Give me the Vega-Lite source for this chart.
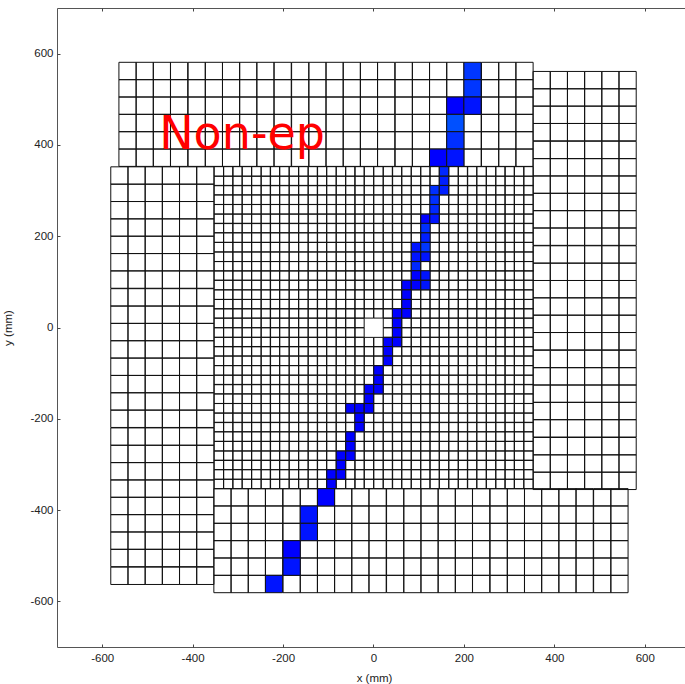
{"$schema":"https://vega.github.io/schema/vega-lite/v6.json","width":628,"height":639,"autosize":"none","padding":{"left":57,"top":8,"right":0,"bottom":37},"background":"white","view":{"stroke":"#555555","strokeWidth":1,"fill":"white"},"config":{"axis":{"grid":false,"domain":false,"tickColor":"#444444","tickSize":-3,"labelFont":"Liberation Sans","labelFontSize":11.5,"labelColor":"#222222","titleFont":"Liberation Sans","titleFontSize":11.5,"titleFontWeight":"normal","titleColor":"#222222","labelPadding":7}},"datasets":{"grid":[
{"x":-342,"y":342},{"x":-321,"y":342},{"x":-301,"y":342},{"x":-280,"y":342},{"x":-259,"y":342},{"x":-238,"y":342},{"x":-218,"y":342},{"x":-197,"y":342},{"x":-176,"y":342},{"x":-155,"y":342},{"x":-134,"y":342},{"x":-114,"y":342},{"x":-93,"y":342},{"x":-72,"y":342},{"x":-51,"y":342},{"x":-31,"y":342},{"x":-10,"y":342},{"x":11,"y":342},{"x":32,"y":342},{"x":52,"y":342},{"x":73,"y":342},{"x":94,"y":342},{"x":115,"y":342},{"x":135,"y":342},{"x":177,"y":342},{"x":198,"y":342},{"x":218,"y":342},{"x":239,"y":342},{"x":260,"y":342},{"x":281,"y":342},{"x":301,"y":342},{"x":322,"y":342},{"x":343,"y":342},
{"x":-342,"y":321},{"x":-321,"y":321},{"x":-301,"y":321},{"x":-280,"y":321},{"x":-259,"y":321},{"x":-238,"y":321},{"x":-218,"y":321},{"x":-197,"y":321},{"x":-176,"y":321},{"x":-155,"y":321},{"x":-134,"y":321},{"x":-114,"y":321},{"x":-93,"y":321},{"x":-72,"y":321},{"x":-51,"y":321},{"x":-31,"y":321},{"x":-10,"y":321},{"x":11,"y":321},{"x":32,"y":321},{"x":52,"y":321},{"x":73,"y":321},{"x":94,"y":321},{"x":115,"y":321},{"x":135,"y":321},{"x":177,"y":321},{"x":198,"y":321},{"x":218,"y":321},{"x":239,"y":321},{"x":260,"y":321},{"x":281,"y":321},{"x":301,"y":321},{"x":322,"y":321},{"x":343,"y":321},
{"x":-342,"y":301},{"x":-321,"y":301},{"x":-301,"y":301},{"x":-280,"y":301},{"x":-259,"y":301},{"x":-238,"y":301},{"x":-218,"y":301},{"x":-197,"y":301},{"x":-176,"y":301},{"x":-155,"y":301},{"x":-134,"y":301},{"x":-114,"y":301},{"x":-93,"y":301},{"x":-72,"y":301},{"x":-51,"y":301},{"x":-31,"y":301},{"x":-10,"y":301},{"x":11,"y":301},{"x":32,"y":301},{"x":52,"y":301},{"x":73,"y":301},{"x":94,"y":301},{"x":115,"y":301},{"x":177,"y":301},{"x":198,"y":301},{"x":218,"y":301},{"x":239,"y":301},{"x":260,"y":301},{"x":281,"y":301},{"x":301,"y":301},{"x":322,"y":301},{"x":343,"y":301},
{"x":-342,"y":280},{"x":-321,"y":280},{"x":-301,"y":280},{"x":-280,"y":280},{"x":-259,"y":280},{"x":-238,"y":280},{"x":-218,"y":280},{"x":-197,"y":280},{"x":-176,"y":280},{"x":-155,"y":280},{"x":-134,"y":280},{"x":-114,"y":280},{"x":-93,"y":280},{"x":-72,"y":280},{"x":-51,"y":280},{"x":-31,"y":280},{"x":-10,"y":280},{"x":11,"y":280},{"x":32,"y":280},{"x":52,"y":280},{"x":73,"y":280},{"x":94,"y":280},{"x":115,"y":280},{"x":156,"y":280},{"x":177,"y":280},{"x":198,"y":280},{"x":218,"y":280},{"x":239,"y":280},{"x":260,"y":280},{"x":281,"y":280},{"x":301,"y":280},{"x":322,"y":280},{"x":343,"y":280},
{"x":-342,"y":259},{"x":-321,"y":259},{"x":-301,"y":259},{"x":-280,"y":259},{"x":-259,"y":259},{"x":-238,"y":259},{"x":-218,"y":259},{"x":-197,"y":259},{"x":-176,"y":259},{"x":-155,"y":259},{"x":-134,"y":259},{"x":-114,"y":259},{"x":-93,"y":259},{"x":-72,"y":259},{"x":-51,"y":259},{"x":-31,"y":259},{"x":-10,"y":259},{"x":11,"y":259},{"x":32,"y":259},{"x":52,"y":259},{"x":73,"y":259},{"x":94,"y":259},{"x":115,"y":259},{"x":156,"y":259},{"x":177,"y":259},{"x":198,"y":259},{"x":218,"y":259},{"x":239,"y":259},{"x":260,"y":259},{"x":281,"y":259},{"x":301,"y":259},{"x":322,"y":259},{"x":343,"y":259},
{"x":-342,"y":238},{"x":-321,"y":238},{"x":-301,"y":238},{"x":-280,"y":238},{"x":-259,"y":238},{"x":-238,"y":238},{"x":-218,"y":238},{"x":-197,"y":238},{"x":-176,"y":238},{"x":-155,"y":238},{"x":-134,"y":238},{"x":-114,"y":238},{"x":-93,"y":238},{"x":-72,"y":238},{"x":-51,"y":238},{"x":-31,"y":238},{"x":-10,"y":238},{"x":11,"y":238},{"x":32,"y":238},{"x":52,"y":238},{"x":73,"y":238},{"x":94,"y":238},{"x":156,"y":238},{"x":177,"y":238},{"x":198,"y":238},{"x":218,"y":238},{"x":239,"y":238},{"x":260,"y":238},{"x":281,"y":238},{"x":301,"y":238},{"x":322,"y":238},{"x":343,"y":238},
{"x":-342,"y":218},{"x":-321,"y":218},{"x":-301,"y":218},{"x":-280,"y":218},{"x":-259,"y":218},{"x":-238,"y":218},{"x":-218,"y":218},{"x":-197,"y":218},{"x":-176,"y":218},{"x":-155,"y":218},{"x":-134,"y":218},{"x":-114,"y":218},{"x":-93,"y":218},{"x":-72,"y":218},{"x":-51,"y":218},{"x":-31,"y":218},{"x":-10,"y":218},{"x":11,"y":218},{"x":32,"y":218},{"x":52,"y":218},{"x":73,"y":218},{"x":94,"y":218},{"x":135,"y":218},{"x":156,"y":218},{"x":177,"y":218},{"x":198,"y":218},{"x":218,"y":218},{"x":239,"y":218},{"x":260,"y":218},{"x":281,"y":218},{"x":301,"y":218},{"x":322,"y":218},{"x":343,"y":218},
{"x":-342,"y":197},{"x":-321,"y":197},{"x":-301,"y":197},{"x":-280,"y":197},{"x":-259,"y":197},{"x":-238,"y":197},{"x":-218,"y":197},{"x":-197,"y":197},{"x":-176,"y":197},{"x":-155,"y":197},{"x":-134,"y":197},{"x":-114,"y":197},{"x":-93,"y":197},{"x":-72,"y":197},{"x":-51,"y":197},{"x":-31,"y":197},{"x":-10,"y":197},{"x":11,"y":197},{"x":32,"y":197},{"x":52,"y":197},{"x":73,"y":197},{"x":94,"y":197},{"x":135,"y":197},{"x":156,"y":197},{"x":177,"y":197},{"x":198,"y":197},{"x":218,"y":197},{"x":239,"y":197},{"x":260,"y":197},{"x":281,"y":197},{"x":301,"y":197},{"x":322,"y":197},{"x":343,"y":197},
{"x":-342,"y":176},{"x":-321,"y":176},{"x":-301,"y":176},{"x":-280,"y":176},{"x":-259,"y":176},{"x":-238,"y":176},{"x":-218,"y":176},{"x":-197,"y":176},{"x":-176,"y":176},{"x":-155,"y":176},{"x":-134,"y":176},{"x":-114,"y":176},{"x":-93,"y":176},{"x":-72,"y":176},{"x":-51,"y":176},{"x":-31,"y":176},{"x":-10,"y":176},{"x":11,"y":176},{"x":32,"y":176},{"x":52,"y":176},{"x":73,"y":176},{"x":135,"y":176},{"x":156,"y":176},{"x":177,"y":176},{"x":198,"y":176},{"x":218,"y":176},{"x":239,"y":176},{"x":260,"y":176},{"x":281,"y":176},{"x":301,"y":176},{"x":322,"y":176},{"x":343,"y":176},
{"x":-342,"y":155},{"x":-321,"y":155},{"x":-301,"y":155},{"x":-280,"y":155},{"x":-259,"y":155},{"x":-238,"y":155},{"x":-218,"y":155},{"x":-197,"y":155},{"x":-176,"y":155},{"x":-155,"y":155},{"x":-134,"y":155},{"x":-114,"y":155},{"x":-93,"y":155},{"x":-72,"y":155},{"x":-51,"y":155},{"x":-31,"y":155},{"x":-10,"y":155},{"x":11,"y":155},{"x":32,"y":155},{"x":52,"y":155},{"x":73,"y":155},{"x":135,"y":155},{"x":156,"y":155},{"x":177,"y":155},{"x":198,"y":155},{"x":218,"y":155},{"x":239,"y":155},{"x":260,"y":155},{"x":281,"y":155},{"x":301,"y":155},{"x":322,"y":155},{"x":343,"y":155},
{"x":-342,"y":134},{"x":-321,"y":134},{"x":-301,"y":134},{"x":-280,"y":134},{"x":-259,"y":134},{"x":-238,"y":134},{"x":-218,"y":134},{"x":-197,"y":134},{"x":-176,"y":134},{"x":-155,"y":134},{"x":-134,"y":134},{"x":-114,"y":134},{"x":-93,"y":134},{"x":-72,"y":134},{"x":-51,"y":134},{"x":-31,"y":134},{"x":-10,"y":134},{"x":11,"y":134},{"x":32,"y":134},{"x":52,"y":134},{"x":73,"y":134},{"x":115,"y":134},{"x":135,"y":134},{"x":156,"y":134},{"x":177,"y":134},{"x":198,"y":134},{"x":218,"y":134},{"x":239,"y":134},{"x":260,"y":134},{"x":281,"y":134},{"x":301,"y":134},{"x":322,"y":134},{"x":343,"y":134},
{"x":-342,"y":114},{"x":-321,"y":114},{"x":-301,"y":114},{"x":-280,"y":114},{"x":-259,"y":114},{"x":-238,"y":114},{"x":-218,"y":114},{"x":-197,"y":114},{"x":-176,"y":114},{"x":-155,"y":114},{"x":-134,"y":114},{"x":-114,"y":114},{"x":-93,"y":114},{"x":-72,"y":114},{"x":-51,"y":114},{"x":-31,"y":114},{"x":-10,"y":114},{"x":11,"y":114},{"x":32,"y":114},{"x":52,"y":114},{"x":73,"y":114},{"x":135,"y":114},{"x":156,"y":114},{"x":177,"y":114},{"x":198,"y":114},{"x":218,"y":114},{"x":239,"y":114},{"x":260,"y":114},{"x":281,"y":114},{"x":301,"y":114},{"x":322,"y":114},{"x":343,"y":114},
{"x":-342,"y":93},{"x":-321,"y":93},{"x":-301,"y":93},{"x":-280,"y":93},{"x":-259,"y":93},{"x":-238,"y":93},{"x":-218,"y":93},{"x":-197,"y":93},{"x":-176,"y":93},{"x":-155,"y":93},{"x":-134,"y":93},{"x":-114,"y":93},{"x":-93,"y":93},{"x":-72,"y":93},{"x":-51,"y":93},{"x":-31,"y":93},{"x":-10,"y":93},{"x":11,"y":93},{"x":32,"y":93},{"x":52,"y":93},{"x":135,"y":93},{"x":156,"y":93},{"x":177,"y":93},{"x":198,"y":93},{"x":218,"y":93},{"x":239,"y":93},{"x":260,"y":93},{"x":281,"y":93},{"x":301,"y":93},{"x":322,"y":93},{"x":343,"y":93},
{"x":-342,"y":72},{"x":-321,"y":72},{"x":-301,"y":72},{"x":-280,"y":72},{"x":-259,"y":72},{"x":-238,"y":72},{"x":-218,"y":72},{"x":-197,"y":72},{"x":-176,"y":72},{"x":-155,"y":72},{"x":-134,"y":72},{"x":-114,"y":72},{"x":-93,"y":72},{"x":-72,"y":72},{"x":-51,"y":72},{"x":-31,"y":72},{"x":-10,"y":72},{"x":11,"y":72},{"x":32,"y":72},{"x":52,"y":72},{"x":94,"y":72},{"x":115,"y":72},{"x":135,"y":72},{"x":156,"y":72},{"x":177,"y":72},{"x":198,"y":72},{"x":218,"y":72},{"x":239,"y":72},{"x":260,"y":72},{"x":281,"y":72},{"x":301,"y":72},{"x":322,"y":72},{"x":343,"y":72},
{"x":-342,"y":51},{"x":-321,"y":51},{"x":-301,"y":51},{"x":-280,"y":51},{"x":-259,"y":51},{"x":-238,"y":51},{"x":-218,"y":51},{"x":-197,"y":51},{"x":-176,"y":51},{"x":-155,"y":51},{"x":-134,"y":51},{"x":-114,"y":51},{"x":-93,"y":51},{"x":-72,"y":51},{"x":-51,"y":51},{"x":-31,"y":51},{"x":-10,"y":51},{"x":11,"y":51},{"x":32,"y":51},{"x":52,"y":51},{"x":94,"y":51},{"x":115,"y":51},{"x":135,"y":51},{"x":156,"y":51},{"x":177,"y":51},{"x":198,"y":51},{"x":218,"y":51},{"x":239,"y":51},{"x":260,"y":51},{"x":281,"y":51},{"x":301,"y":51},{"x":322,"y":51},{"x":343,"y":51},
{"x":-342,"y":31},{"x":-321,"y":31},{"x":-301,"y":31},{"x":-280,"y":31},{"x":-259,"y":31},{"x":-238,"y":31},{"x":-218,"y":31},{"x":-197,"y":31},{"x":-176,"y":31},{"x":-155,"y":31},{"x":-134,"y":31},{"x":-114,"y":31},{"x":-93,"y":31},{"x":-72,"y":31},{"x":-51,"y":31},{"x":-31,"y":31},{"x":-10,"y":31},{"x":11,"y":31},{"x":32,"y":31},{"x":94,"y":31},{"x":115,"y":31},{"x":135,"y":31},{"x":156,"y":31},{"x":177,"y":31},{"x":198,"y":31},{"x":218,"y":31},{"x":239,"y":31},{"x":260,"y":31},{"x":281,"y":31},{"x":301,"y":31},{"x":322,"y":31},{"x":343,"y":31},
{"x":-342,"y":10},{"x":-321,"y":10},{"x":-301,"y":10},{"x":-280,"y":10},{"x":-259,"y":10},{"x":-238,"y":10},{"x":-218,"y":10},{"x":-197,"y":10},{"x":-176,"y":10},{"x":-155,"y":10},{"x":-134,"y":10},{"x":-114,"y":10},{"x":-93,"y":10},{"x":-72,"y":10},{"x":-51,"y":10},{"x":-31,"y":10},{"x":32,"y":10},{"x":73,"y":10},{"x":94,"y":10},{"x":115,"y":10},{"x":135,"y":10},{"x":156,"y":10},{"x":177,"y":10},{"x":198,"y":10},{"x":218,"y":10},{"x":239,"y":10},{"x":260,"y":10},{"x":281,"y":10},{"x":301,"y":10},{"x":322,"y":10},{"x":343,"y":10},
{"x":-342,"y":-11},{"x":-321,"y":-11},{"x":-301,"y":-11},{"x":-280,"y":-11},{"x":-259,"y":-11},{"x":-238,"y":-11},{"x":-218,"y":-11},{"x":-197,"y":-11},{"x":-176,"y":-11},{"x":-155,"y":-11},{"x":-134,"y":-11},{"x":-114,"y":-11},{"x":-93,"y":-11},{"x":-72,"y":-11},{"x":-51,"y":-11},{"x":-31,"y":-11},{"x":32,"y":-11},{"x":73,"y":-11},{"x":94,"y":-11},{"x":115,"y":-11},{"x":135,"y":-11},{"x":156,"y":-11},{"x":177,"y":-11},{"x":198,"y":-11},{"x":218,"y":-11},{"x":239,"y":-11},{"x":260,"y":-11},{"x":281,"y":-11},{"x":301,"y":-11},{"x":322,"y":-11},{"x":343,"y":-11},
{"x":-342,"y":-32},{"x":-321,"y":-32},{"x":-301,"y":-32},{"x":-280,"y":-32},{"x":-259,"y":-32},{"x":-238,"y":-32},{"x":-218,"y":-32},{"x":-197,"y":-32},{"x":-176,"y":-32},{"x":-155,"y":-32},{"x":-134,"y":-32},{"x":-114,"y":-32},{"x":-93,"y":-32},{"x":-72,"y":-32},{"x":-51,"y":-32},{"x":-31,"y":-32},{"x":-10,"y":-32},{"x":11,"y":-32},{"x":73,"y":-32},{"x":94,"y":-32},{"x":115,"y":-32},{"x":135,"y":-32},{"x":156,"y":-32},{"x":177,"y":-32},{"x":198,"y":-32},{"x":218,"y":-32},{"x":239,"y":-32},{"x":260,"y":-32},{"x":281,"y":-32},{"x":301,"y":-32},{"x":322,"y":-32},{"x":343,"y":-32},
{"x":-342,"y":-52},{"x":-321,"y":-52},{"x":-301,"y":-52},{"x":-280,"y":-52},{"x":-259,"y":-52},{"x":-238,"y":-52},{"x":-218,"y":-52},{"x":-197,"y":-52},{"x":-176,"y":-52},{"x":-155,"y":-52},{"x":-134,"y":-52},{"x":-114,"y":-52},{"x":-93,"y":-52},{"x":-72,"y":-52},{"x":-51,"y":-52},{"x":-31,"y":-52},{"x":-10,"y":-52},{"x":11,"y":-52},{"x":52,"y":-52},{"x":73,"y":-52},{"x":94,"y":-52},{"x":115,"y":-52},{"x":135,"y":-52},{"x":156,"y":-52},{"x":177,"y":-52},{"x":198,"y":-52},{"x":218,"y":-52},{"x":239,"y":-52},{"x":260,"y":-52},{"x":281,"y":-52},{"x":301,"y":-52},{"x":322,"y":-52},{"x":343,"y":-52},
{"x":-342,"y":-73},{"x":-321,"y":-73},{"x":-301,"y":-73},{"x":-280,"y":-73},{"x":-259,"y":-73},{"x":-238,"y":-73},{"x":-218,"y":-73},{"x":-197,"y":-73},{"x":-176,"y":-73},{"x":-155,"y":-73},{"x":-134,"y":-73},{"x":-114,"y":-73},{"x":-93,"y":-73},{"x":-72,"y":-73},{"x":-51,"y":-73},{"x":-31,"y":-73},{"x":-10,"y":-73},{"x":11,"y":-73},{"x":52,"y":-73},{"x":73,"y":-73},{"x":94,"y":-73},{"x":115,"y":-73},{"x":135,"y":-73},{"x":156,"y":-73},{"x":177,"y":-73},{"x":198,"y":-73},{"x":218,"y":-73},{"x":239,"y":-73},{"x":260,"y":-73},{"x":281,"y":-73},{"x":301,"y":-73},{"x":322,"y":-73},{"x":343,"y":-73},
{"x":-342,"y":-94},{"x":-321,"y":-94},{"x":-301,"y":-94},{"x":-280,"y":-94},{"x":-259,"y":-94},{"x":-238,"y":-94},{"x":-218,"y":-94},{"x":-197,"y":-94},{"x":-176,"y":-94},{"x":-155,"y":-94},{"x":-134,"y":-94},{"x":-114,"y":-94},{"x":-93,"y":-94},{"x":-72,"y":-94},{"x":-51,"y":-94},{"x":-31,"y":-94},{"x":-10,"y":-94},{"x":32,"y":-94},{"x":52,"y":-94},{"x":73,"y":-94},{"x":94,"y":-94},{"x":115,"y":-94},{"x":135,"y":-94},{"x":156,"y":-94},{"x":177,"y":-94},{"x":198,"y":-94},{"x":218,"y":-94},{"x":239,"y":-94},{"x":260,"y":-94},{"x":281,"y":-94},{"x":301,"y":-94},{"x":322,"y":-94},{"x":343,"y":-94},
{"x":-342,"y":-115},{"x":-321,"y":-115},{"x":-301,"y":-115},{"x":-280,"y":-115},{"x":-259,"y":-115},{"x":-238,"y":-115},{"x":-218,"y":-115},{"x":-197,"y":-115},{"x":-176,"y":-115},{"x":-155,"y":-115},{"x":-134,"y":-115},{"x":-114,"y":-115},{"x":-93,"y":-115},{"x":-72,"y":-115},{"x":-51,"y":-115},{"x":-31,"y":-115},{"x":-10,"y":-115},{"x":32,"y":-115},{"x":52,"y":-115},{"x":73,"y":-115},{"x":94,"y":-115},{"x":115,"y":-115},{"x":135,"y":-115},{"x":156,"y":-115},{"x":177,"y":-115},{"x":198,"y":-115},{"x":218,"y":-115},{"x":239,"y":-115},{"x":260,"y":-115},{"x":281,"y":-115},{"x":301,"y":-115},{"x":322,"y":-115},{"x":343,"y":-115},
{"x":-342,"y":-135},{"x":-321,"y":-135},{"x":-301,"y":-135},{"x":-280,"y":-135},{"x":-259,"y":-135},{"x":-238,"y":-135},{"x":-218,"y":-135},{"x":-197,"y":-135},{"x":-176,"y":-135},{"x":-155,"y":-135},{"x":-134,"y":-135},{"x":-114,"y":-135},{"x":-93,"y":-135},{"x":-72,"y":-135},{"x":-51,"y":-135},{"x":-31,"y":-135},{"x":32,"y":-135},{"x":52,"y":-135},{"x":73,"y":-135},{"x":94,"y":-135},{"x":115,"y":-135},{"x":135,"y":-135},{"x":156,"y":-135},{"x":177,"y":-135},{"x":198,"y":-135},{"x":218,"y":-135},{"x":239,"y":-135},{"x":260,"y":-135},{"x":281,"y":-135},{"x":301,"y":-135},{"x":322,"y":-135},{"x":343,"y":-135},
{"x":-342,"y":-156},{"x":-321,"y":-156},{"x":-301,"y":-156},{"x":-280,"y":-156},{"x":-259,"y":-156},{"x":-238,"y":-156},{"x":-218,"y":-156},{"x":-197,"y":-156},{"x":-176,"y":-156},{"x":-155,"y":-156},{"x":-134,"y":-156},{"x":-114,"y":-156},{"x":-93,"y":-156},{"x":-72,"y":-156},{"x":-51,"y":-156},{"x":-31,"y":-156},{"x":11,"y":-156},{"x":32,"y":-156},{"x":52,"y":-156},{"x":73,"y":-156},{"x":94,"y":-156},{"x":115,"y":-156},{"x":135,"y":-156},{"x":156,"y":-156},{"x":177,"y":-156},{"x":198,"y":-156},{"x":218,"y":-156},{"x":239,"y":-156},{"x":260,"y":-156},{"x":281,"y":-156},{"x":301,"y":-156},{"x":322,"y":-156},{"x":343,"y":-156},
{"x":-342,"y":-177},{"x":-321,"y":-177},{"x":-301,"y":-177},{"x":-280,"y":-177},{"x":-259,"y":-177},{"x":-238,"y":-177},{"x":-218,"y":-177},{"x":-197,"y":-177},{"x":-176,"y":-177},{"x":-155,"y":-177},{"x":-134,"y":-177},{"x":-114,"y":-177},{"x":-93,"y":-177},{"x":-72,"y":-177},{"x":11,"y":-177},{"x":32,"y":-177},{"x":52,"y":-177},{"x":73,"y":-177},{"x":94,"y":-177},{"x":115,"y":-177},{"x":135,"y":-177},{"x":156,"y":-177},{"x":177,"y":-177},{"x":198,"y":-177},{"x":218,"y":-177},{"x":239,"y":-177},{"x":260,"y":-177},{"x":281,"y":-177},{"x":301,"y":-177},{"x":322,"y":-177},{"x":343,"y":-177},
{"x":-342,"y":-198},{"x":-321,"y":-198},{"x":-301,"y":-198},{"x":-280,"y":-198},{"x":-259,"y":-198},{"x":-238,"y":-198},{"x":-218,"y":-198},{"x":-197,"y":-198},{"x":-176,"y":-198},{"x":-155,"y":-198},{"x":-134,"y":-198},{"x":-114,"y":-198},{"x":-93,"y":-198},{"x":-72,"y":-198},{"x":-51,"y":-198},{"x":-10,"y":-198},{"x":11,"y":-198},{"x":32,"y":-198},{"x":52,"y":-198},{"x":73,"y":-198},{"x":94,"y":-198},{"x":115,"y":-198},{"x":135,"y":-198},{"x":156,"y":-198},{"x":177,"y":-198},{"x":198,"y":-198},{"x":218,"y":-198},{"x":239,"y":-198},{"x":260,"y":-198},{"x":281,"y":-198},{"x":301,"y":-198},{"x":322,"y":-198},{"x":343,"y":-198},
{"x":-342,"y":-218},{"x":-321,"y":-218},{"x":-301,"y":-218},{"x":-280,"y":-218},{"x":-259,"y":-218},{"x":-238,"y":-218},{"x":-218,"y":-218},{"x":-197,"y":-218},{"x":-176,"y":-218},{"x":-155,"y":-218},{"x":-134,"y":-218},{"x":-114,"y":-218},{"x":-93,"y":-218},{"x":-72,"y":-218},{"x":-51,"y":-218},{"x":-10,"y":-218},{"x":11,"y":-218},{"x":32,"y":-218},{"x":52,"y":-218},{"x":73,"y":-218},{"x":94,"y":-218},{"x":115,"y":-218},{"x":135,"y":-218},{"x":156,"y":-218},{"x":177,"y":-218},{"x":198,"y":-218},{"x":218,"y":-218},{"x":239,"y":-218},{"x":260,"y":-218},{"x":281,"y":-218},{"x":301,"y":-218},{"x":322,"y":-218},{"x":343,"y":-218},
{"x":-342,"y":-239},{"x":-321,"y":-239},{"x":-301,"y":-239},{"x":-280,"y":-239},{"x":-259,"y":-239},{"x":-238,"y":-239},{"x":-218,"y":-239},{"x":-197,"y":-239},{"x":-176,"y":-239},{"x":-155,"y":-239},{"x":-134,"y":-239},{"x":-114,"y":-239},{"x":-93,"y":-239},{"x":-72,"y":-239},{"x":-31,"y":-239},{"x":-10,"y":-239},{"x":11,"y":-239},{"x":32,"y":-239},{"x":52,"y":-239},{"x":73,"y":-239},{"x":94,"y":-239},{"x":115,"y":-239},{"x":135,"y":-239},{"x":156,"y":-239},{"x":177,"y":-239},{"x":198,"y":-239},{"x":218,"y":-239},{"x":239,"y":-239},{"x":260,"y":-239},{"x":281,"y":-239},{"x":301,"y":-239},{"x":322,"y":-239},{"x":343,"y":-239},
{"x":-342,"y":-260},{"x":-321,"y":-260},{"x":-301,"y":-260},{"x":-280,"y":-260},{"x":-259,"y":-260},{"x":-238,"y":-260},{"x":-218,"y":-260},{"x":-197,"y":-260},{"x":-176,"y":-260},{"x":-155,"y":-260},{"x":-134,"y":-260},{"x":-114,"y":-260},{"x":-93,"y":-260},{"x":-72,"y":-260},{"x":-31,"y":-260},{"x":-10,"y":-260},{"x":11,"y":-260},{"x":32,"y":-260},{"x":52,"y":-260},{"x":73,"y":-260},{"x":94,"y":-260},{"x":115,"y":-260},{"x":135,"y":-260},{"x":156,"y":-260},{"x":177,"y":-260},{"x":198,"y":-260},{"x":218,"y":-260},{"x":239,"y":-260},{"x":260,"y":-260},{"x":281,"y":-260},{"x":301,"y":-260},{"x":322,"y":-260},{"x":343,"y":-260},
{"x":-342,"y":-281},{"x":-321,"y":-281},{"x":-301,"y":-281},{"x":-280,"y":-281},{"x":-259,"y":-281},{"x":-238,"y":-281},{"x":-218,"y":-281},{"x":-197,"y":-281},{"x":-176,"y":-281},{"x":-155,"y":-281},{"x":-134,"y":-281},{"x":-114,"y":-281},{"x":-93,"y":-281},{"x":-31,"y":-281},{"x":-10,"y":-281},{"x":11,"y":-281},{"x":32,"y":-281},{"x":52,"y":-281},{"x":73,"y":-281},{"x":94,"y":-281},{"x":115,"y":-281},{"x":135,"y":-281},{"x":156,"y":-281},{"x":177,"y":-281},{"x":198,"y":-281},{"x":218,"y":-281},{"x":239,"y":-281},{"x":260,"y":-281},{"x":281,"y":-281},{"x":301,"y":-281},{"x":322,"y":-281},{"x":343,"y":-281},
{"x":-342,"y":-301},{"x":-321,"y":-301},{"x":-301,"y":-301},{"x":-280,"y":-301},{"x":-259,"y":-301},{"x":-238,"y":-301},{"x":-218,"y":-301},{"x":-197,"y":-301},{"x":-176,"y":-301},{"x":-155,"y":-301},{"x":-134,"y":-301},{"x":-114,"y":-301},{"x":-93,"y":-301},{"x":-51,"y":-301},{"x":-31,"y":-301},{"x":-10,"y":-301},{"x":11,"y":-301},{"x":32,"y":-301},{"x":52,"y":-301},{"x":73,"y":-301},{"x":94,"y":-301},{"x":115,"y":-301},{"x":135,"y":-301},{"x":156,"y":-301},{"x":177,"y":-301},{"x":198,"y":-301},{"x":218,"y":-301},{"x":239,"y":-301},{"x":260,"y":-301},{"x":281,"y":-301},{"x":301,"y":-301},{"x":322,"y":-301},{"x":343,"y":-301},
{"x":-342,"y":-322},{"x":-321,"y":-322},{"x":-301,"y":-322},{"x":-280,"y":-322},{"x":-259,"y":-322},{"x":-238,"y":-322},{"x":-218,"y":-322},{"x":-197,"y":-322},{"x":-176,"y":-322},{"x":-155,"y":-322},{"x":-134,"y":-322},{"x":-114,"y":-322},{"x":-51,"y":-322},{"x":-31,"y":-322},{"x":-10,"y":-322},{"x":11,"y":-322},{"x":32,"y":-322},{"x":52,"y":-322},{"x":73,"y":-322},{"x":94,"y":-322},{"x":115,"y":-322},{"x":135,"y":-322},{"x":156,"y":-322},{"x":177,"y":-322},{"x":198,"y":-322},{"x":218,"y":-322},{"x":239,"y":-322},{"x":260,"y":-322},{"x":281,"y":-322},{"x":301,"y":-322},{"x":322,"y":-322},{"x":343,"y":-322},
{"x":-342,"y":-343},{"x":-321,"y":-343},{"x":-301,"y":-343},{"x":-280,"y":-343},{"x":-259,"y":-343},{"x":-238,"y":-343},{"x":-218,"y":-343},{"x":-197,"y":-343},{"x":-176,"y":-343},{"x":-155,"y":-343},{"x":-134,"y":-343},{"x":-114,"y":-343},{"x":-72,"y":-343},{"x":-51,"y":-343},{"x":-31,"y":-343},{"x":-10,"y":-343},{"x":11,"y":-343},{"x":32,"y":-343},{"x":52,"y":-343},{"x":73,"y":-343},{"x":94,"y":-343},{"x":115,"y":-343},{"x":135,"y":-343},{"x":156,"y":-343},{"x":177,"y":-343},{"x":198,"y":-343},{"x":218,"y":-343},{"x":239,"y":-343},{"x":260,"y":-343},{"x":281,"y":-343},{"x":301,"y":-343},{"x":322,"y":-343},{"x":343,"y":-343}
],"big":[
{"x":-544,"y":562},{"x":-506,"y":562},{"x":-468,"y":562},{"x":-430,"y":562},{"x":-391,"y":562},{"x":-353,"y":562},{"x":-315,"y":562},{"x":-277,"y":562},{"x":-239,"y":562},{"x":-201,"y":562},{"x":-162,"y":562},{"x":-124,"y":562},{"x":-86,"y":562},{"x":-48,"y":562},{"x":-10,"y":562},{"x":28,"y":562},{"x":67,"y":562},{"x":105,"y":562},{"x":143,"y":562},{"x":181,"y":562},{"x":258,"y":562},{"x":296,"y":562},{"x":334,"y":562},
{"x":-544,"y":524},{"x":-506,"y":524},{"x":-468,"y":524},{"x":-430,"y":524},{"x":-391,"y":524},{"x":-353,"y":524},{"x":-315,"y":524},{"x":-277,"y":524},{"x":-239,"y":524},{"x":-201,"y":524},{"x":-162,"y":524},{"x":-124,"y":524},{"x":-86,"y":524},{"x":-48,"y":524},{"x":-10,"y":524},{"x":28,"y":524},{"x":67,"y":524},{"x":105,"y":524},{"x":143,"y":524},{"x":181,"y":524},{"x":258,"y":524},{"x":296,"y":524},{"x":334,"y":524},
{"x":-544,"y":486},{"x":-506,"y":486},{"x":-468,"y":486},{"x":-430,"y":486},{"x":-391,"y":486},{"x":-353,"y":486},{"x":-315,"y":486},{"x":-277,"y":486},{"x":-239,"y":486},{"x":-201,"y":486},{"x":-162,"y":486},{"x":-124,"y":486},{"x":-86,"y":486},{"x":-48,"y":486},{"x":-10,"y":486},{"x":28,"y":486},{"x":67,"y":486},{"x":105,"y":486},{"x":143,"y":486},{"x":258,"y":486},{"x":296,"y":486},{"x":334,"y":486},
{"x":-544,"y":448},{"x":-506,"y":448},{"x":-468,"y":448},{"x":-430,"y":448},{"x":-391,"y":448},{"x":-353,"y":448},{"x":-315,"y":448},{"x":-277,"y":448},{"x":-239,"y":448},{"x":-201,"y":448},{"x":-162,"y":448},{"x":-124,"y":448},{"x":-86,"y":448},{"x":-48,"y":448},{"x":-10,"y":448},{"x":28,"y":448},{"x":67,"y":448},{"x":105,"y":448},{"x":143,"y":448},{"x":219,"y":448},{"x":258,"y":448},{"x":296,"y":448},{"x":334,"y":448},
{"x":-544,"y":410},{"x":-506,"y":410},{"x":-468,"y":410},{"x":-430,"y":410},{"x":-391,"y":410},{"x":-353,"y":410},{"x":-315,"y":410},{"x":-277,"y":410},{"x":-239,"y":410},{"x":-201,"y":410},{"x":-162,"y":410},{"x":-124,"y":410},{"x":-86,"y":410},{"x":-48,"y":410},{"x":-10,"y":410},{"x":28,"y":410},{"x":67,"y":410},{"x":105,"y":410},{"x":143,"y":410},{"x":219,"y":410},{"x":258,"y":410},{"x":296,"y":410},{"x":334,"y":410},
{"x":-544,"y":372},{"x":-506,"y":372},{"x":-468,"y":372},{"x":-430,"y":372},{"x":-391,"y":372},{"x":-353,"y":372},{"x":-315,"y":372},{"x":-277,"y":372},{"x":-239,"y":372},{"x":-201,"y":372},{"x":-162,"y":372},{"x":-124,"y":372},{"x":-86,"y":372},{"x":-48,"y":372},{"x":-10,"y":372},{"x":28,"y":372},{"x":67,"y":372},{"x":105,"y":372},{"x":219,"y":372},{"x":258,"y":372},{"x":296,"y":372},{"x":334,"y":372},
{"x":-334,"y":-372},{"x":-296,"y":-372},{"x":-258,"y":-372},{"x":-220,"y":-372},{"x":-181,"y":-372},{"x":-143,"y":-372},{"x":-67,"y":-372},{"x":-29,"y":-372},{"x":9,"y":-372},{"x":48,"y":-372},{"x":86,"y":-372},{"x":124,"y":-372},{"x":162,"y":-372},{"x":200,"y":-372},{"x":238,"y":-372},{"x":277,"y":-372},{"x":315,"y":-372},{"x":353,"y":-372},{"x":391,"y":-372},{"x":429,"y":-372},{"x":467,"y":-372},{"x":506,"y":-372},{"x":544,"y":-372},
{"x":-334,"y":-410},{"x":-296,"y":-410},{"x":-258,"y":-410},{"x":-220,"y":-410},{"x":-181,"y":-410},{"x":-105,"y":-410},{"x":-67,"y":-410},{"x":-29,"y":-410},{"x":9,"y":-410},{"x":48,"y":-410},{"x":86,"y":-410},{"x":124,"y":-410},{"x":162,"y":-410},{"x":200,"y":-410},{"x":238,"y":-410},{"x":277,"y":-410},{"x":315,"y":-410},{"x":353,"y":-410},{"x":391,"y":-410},{"x":429,"y":-410},{"x":467,"y":-410},{"x":506,"y":-410},{"x":544,"y":-410},
{"x":-334,"y":-448},{"x":-296,"y":-448},{"x":-258,"y":-448},{"x":-220,"y":-448},{"x":-181,"y":-448},{"x":-105,"y":-448},{"x":-67,"y":-448},{"x":-29,"y":-448},{"x":9,"y":-448},{"x":48,"y":-448},{"x":86,"y":-448},{"x":124,"y":-448},{"x":162,"y":-448},{"x":200,"y":-448},{"x":238,"y":-448},{"x":277,"y":-448},{"x":315,"y":-448},{"x":353,"y":-448},{"x":391,"y":-448},{"x":429,"y":-448},{"x":467,"y":-448},{"x":506,"y":-448},{"x":544,"y":-448},
{"x":-334,"y":-486},{"x":-296,"y":-486},{"x":-258,"y":-486},{"x":-220,"y":-486},{"x":-143,"y":-486},{"x":-105,"y":-486},{"x":-67,"y":-486},{"x":-29,"y":-486},{"x":9,"y":-486},{"x":48,"y":-486},{"x":86,"y":-486},{"x":124,"y":-486},{"x":162,"y":-486},{"x":200,"y":-486},{"x":238,"y":-486},{"x":277,"y":-486},{"x":315,"y":-486},{"x":353,"y":-486},{"x":391,"y":-486},{"x":429,"y":-486},{"x":467,"y":-486},{"x":506,"y":-486},{"x":544,"y":-486},
{"x":-334,"y":-524},{"x":-296,"y":-524},{"x":-258,"y":-524},{"x":-220,"y":-524},{"x":-143,"y":-524},{"x":-105,"y":-524},{"x":-67,"y":-524},{"x":-29,"y":-524},{"x":9,"y":-524},{"x":48,"y":-524},{"x":86,"y":-524},{"x":124,"y":-524},{"x":162,"y":-524},{"x":200,"y":-524},{"x":238,"y":-524},{"x":277,"y":-524},{"x":315,"y":-524},{"x":353,"y":-524},{"x":391,"y":-524},{"x":429,"y":-524},{"x":467,"y":-524},{"x":506,"y":-524},{"x":544,"y":-524},
{"x":-334,"y":-562},{"x":-296,"y":-562},{"x":-258,"y":-562},{"x":-181,"y":-562},{"x":-143,"y":-562},{"x":-105,"y":-562},{"x":-67,"y":-562},{"x":-29,"y":-562},{"x":9,"y":-562},{"x":48,"y":-562},{"x":86,"y":-562},{"x":124,"y":-562},{"x":162,"y":-562},{"x":200,"y":-562},{"x":238,"y":-562},{"x":277,"y":-562},{"x":315,"y":-562},{"x":353,"y":-562},{"x":391,"y":-562},{"x":429,"y":-562},{"x":467,"y":-562},{"x":506,"y":-562},{"x":544,"y":-562},
{"x":372,"y":542},{"x":410,"y":542},{"x":448,"y":542},{"x":486,"y":542},{"x":524,"y":542},{"x":562,"y":542},
{"x":372,"y":504},{"x":410,"y":504},{"x":448,"y":504},{"x":486,"y":504},{"x":524,"y":504},{"x":562,"y":504},
{"x":372,"y":466},{"x":410,"y":466},{"x":448,"y":466},{"x":486,"y":466},{"x":524,"y":466},{"x":562,"y":466},
{"x":372,"y":428},{"x":410,"y":428},{"x":448,"y":428},{"x":486,"y":428},{"x":524,"y":428},{"x":562,"y":428},
{"x":372,"y":389},{"x":410,"y":389},{"x":448,"y":389},{"x":486,"y":389},{"x":524,"y":389},{"x":562,"y":389},
{"x":372,"y":351},{"x":410,"y":351},{"x":448,"y":351},{"x":486,"y":351},{"x":524,"y":351},{"x":562,"y":351},
{"x":372,"y":313},{"x":410,"y":313},{"x":448,"y":313},{"x":486,"y":313},{"x":524,"y":313},{"x":562,"y":313},
{"x":372,"y":275},{"x":410,"y":275},{"x":448,"y":275},{"x":486,"y":275},{"x":524,"y":275},{"x":562,"y":275},
{"x":372,"y":237},{"x":410,"y":237},{"x":448,"y":237},{"x":486,"y":237},{"x":524,"y":237},{"x":562,"y":237},
{"x":372,"y":199},{"x":410,"y":199},{"x":448,"y":199},{"x":486,"y":199},{"x":524,"y":199},{"x":562,"y":199},
{"x":372,"y":160},{"x":410,"y":160},{"x":448,"y":160},{"x":486,"y":160},{"x":524,"y":160},{"x":562,"y":160},
{"x":372,"y":122},{"x":410,"y":122},{"x":448,"y":122},{"x":486,"y":122},{"x":524,"y":122},{"x":562,"y":122},
{"x":372,"y":84},{"x":410,"y":84},{"x":448,"y":84},{"x":486,"y":84},{"x":524,"y":84},{"x":562,"y":84},
{"x":372,"y":46},{"x":410,"y":46},{"x":448,"y":46},{"x":486,"y":46},{"x":524,"y":46},{"x":562,"y":46},
{"x":372,"y":8},{"x":410,"y":8},{"x":448,"y":8},{"x":486,"y":8},{"x":524,"y":8},{"x":562,"y":8},
{"x":372,"y":-30},{"x":410,"y":-30},{"x":448,"y":-30},{"x":486,"y":-30},{"x":524,"y":-30},{"x":562,"y":-30},
{"x":372,"y":-69},{"x":410,"y":-69},{"x":448,"y":-69},{"x":486,"y":-69},{"x":524,"y":-69},{"x":562,"y":-69},
{"x":372,"y":-107},{"x":410,"y":-107},{"x":448,"y":-107},{"x":486,"y":-107},{"x":524,"y":-107},{"x":562,"y":-107},
{"x":372,"y":-145},{"x":410,"y":-145},{"x":448,"y":-145},{"x":486,"y":-145},{"x":524,"y":-145},{"x":562,"y":-145},
{"x":372,"y":-183},{"x":410,"y":-183},{"x":448,"y":-183},{"x":486,"y":-183},{"x":524,"y":-183},{"x":562,"y":-183},
{"x":372,"y":-221},{"x":410,"y":-221},{"x":448,"y":-221},{"x":486,"y":-221},{"x":524,"y":-221},{"x":562,"y":-221},
{"x":372,"y":-260},{"x":410,"y":-260},{"x":448,"y":-260},{"x":486,"y":-260},{"x":524,"y":-260},{"x":562,"y":-260},
{"x":372,"y":-298},{"x":410,"y":-298},{"x":448,"y":-298},{"x":486,"y":-298},{"x":524,"y":-298},{"x":562,"y":-298},
{"x":372,"y":-336},{"x":410,"y":-336},{"x":448,"y":-336},{"x":486,"y":-336},{"x":524,"y":-336},{"x":562,"y":-336},
{"x":-562,"y":333},{"x":-524,"y":333},{"x":-486,"y":333},{"x":-448,"y":333},{"x":-410,"y":333},{"x":-372,"y":333},
{"x":-562,"y":295},{"x":-524,"y":295},{"x":-486,"y":295},{"x":-448,"y":295},{"x":-410,"y":295},{"x":-372,"y":295},
{"x":-562,"y":257},{"x":-524,"y":257},{"x":-486,"y":257},{"x":-448,"y":257},{"x":-410,"y":257},{"x":-372,"y":257},
{"x":-562,"y":219},{"x":-524,"y":219},{"x":-486,"y":219},{"x":-448,"y":219},{"x":-410,"y":219},{"x":-372,"y":219},
{"x":-562,"y":181},{"x":-524,"y":181},{"x":-486,"y":181},{"x":-448,"y":181},{"x":-410,"y":181},{"x":-372,"y":181},
{"x":-562,"y":143},{"x":-524,"y":143},{"x":-486,"y":143},{"x":-448,"y":143},{"x":-410,"y":143},{"x":-372,"y":143},
{"x":-562,"y":105},{"x":-524,"y":105},{"x":-486,"y":105},{"x":-448,"y":105},{"x":-410,"y":105},{"x":-372,"y":105},
{"x":-562,"y":66},{"x":-524,"y":66},{"x":-486,"y":66},{"x":-448,"y":66},{"x":-410,"y":66},{"x":-372,"y":66},
{"x":-562,"y":28},{"x":-524,"y":28},{"x":-486,"y":28},{"x":-448,"y":28},{"x":-410,"y":28},{"x":-372,"y":28},
{"x":-562,"y":-10},{"x":-524,"y":-10},{"x":-486,"y":-10},{"x":-448,"y":-10},{"x":-410,"y":-10},{"x":-372,"y":-10},
{"x":-562,"y":-48},{"x":-524,"y":-48},{"x":-486,"y":-48},{"x":-448,"y":-48},{"x":-410,"y":-48},{"x":-372,"y":-48},
{"x":-562,"y":-86},{"x":-524,"y":-86},{"x":-486,"y":-86},{"x":-448,"y":-86},{"x":-410,"y":-86},{"x":-372,"y":-86},
{"x":-562,"y":-124},{"x":-524,"y":-124},{"x":-486,"y":-124},{"x":-448,"y":-124},{"x":-410,"y":-124},{"x":-372,"y":-124},
{"x":-562,"y":-162},{"x":-524,"y":-162},{"x":-486,"y":-162},{"x":-448,"y":-162},{"x":-410,"y":-162},{"x":-372,"y":-162},
{"x":-562,"y":-200},{"x":-524,"y":-200},{"x":-486,"y":-200},{"x":-448,"y":-200},{"x":-410,"y":-200},{"x":-372,"y":-200},
{"x":-562,"y":-239},{"x":-524,"y":-239},{"x":-486,"y":-239},{"x":-448,"y":-239},{"x":-410,"y":-239},{"x":-372,"y":-239},
{"x":-562,"y":-277},{"x":-524,"y":-277},{"x":-486,"y":-277},{"x":-448,"y":-277},{"x":-410,"y":-277},{"x":-372,"y":-277},
{"x":-562,"y":-315},{"x":-524,"y":-315},{"x":-486,"y":-315},{"x":-448,"y":-315},{"x":-410,"y":-315},{"x":-372,"y":-315},
{"x":-562,"y":-353},{"x":-524,"y":-353},{"x":-486,"y":-353},{"x":-448,"y":-353},{"x":-410,"y":-353},{"x":-372,"y":-353},
{"x":-562,"y":-391},{"x":-524,"y":-391},{"x":-486,"y":-391},{"x":-448,"y":-391},{"x":-410,"y":-391},{"x":-372,"y":-391},
{"x":-562,"y":-429},{"x":-524,"y":-429},{"x":-486,"y":-429},{"x":-448,"y":-429},{"x":-410,"y":-429},{"x":-372,"y":-429},
{"x":-562,"y":-467},{"x":-524,"y":-467},{"x":-486,"y":-467},{"x":-448,"y":-467},{"x":-410,"y":-467},{"x":-372,"y":-467},
{"x":-562,"y":-505},{"x":-524,"y":-505},{"x":-486,"y":-505},{"x":-448,"y":-505},{"x":-410,"y":-505},{"x":-372,"y":-505},
{"x":-562,"y":-544},{"x":-524,"y":-544},{"x":-486,"y":-544},{"x":-448,"y":-544},{"x":-410,"y":-544},{"x":-372,"y":-544}
],"hitGrid":[
{"x":156,"y":342,"e":0.3},{"x":156,"y":321,"e":0.2},{"x":135,"y":301,"e":0.4},{"x":156,"y":301,"e":0.2},{"x":135,"y":280,"e":0.4},{"x":135,"y":259,"e":0.3},{"x":115,"y":238,"e":0},{"x":135,"y":238,"e":0.1},{"x":115,"y":218,"e":0.4},{"x":115,"y":197,"e":0.2},{"x":94,"y":176,"e":0.1},{"x":115,"y":176,"e":0.5},{"x":94,"y":155,"e":0.1},{"x":115,"y":155,"e":0.1},{"x":94,"y":134,"e":0.3},{"x":94,"y":114,"e":0},{"x":115,"y":114,"e":0.1},{"x":73,"y":93,"e":0},{"x":94,"y":93,"e":0},{"x":115,"y":93,"e":0.1},{"x":73,"y":72,"e":0},{"x":73,"y":51,"e":0},{"x":52,"y":31,"e":0},{"x":73,"y":31,"e":0},{"x":52,"y":10,"e":0},{"x":52,"y":-11,"e":0},{"x":32,"y":-32,"e":0},{"x":52,"y":-32,"e":0},{"x":32,"y":-52,"e":0},{"x":32,"y":-73,"e":0},{"x":11,"y":-94,"e":0},{"x":11,"y":-115,"e":0},{"x":-10,"y":-135,"e":0},{"x":11,"y":-135,"e":0},{"x":-10,"y":-156,"e":0},{"x":-51,"y":-177,"e":0},{"x":-31,"y":-177,"e":0},{"x":-10,"y":-177,"e":0},{"x":-31,"y":-198,"e":0},{"x":-31,"y":-218,"e":0},{"x":-51,"y":-239,"e":0},{"x":-51,"y":-260,"e":0},{"x":-72,"y":-281,"e":0},{"x":-51,"y":-281,"e":0},{"x":-72,"y":-301,"e":0},{"x":-93,"y":-322,"e":0},{"x":-72,"y":-322,"e":0},{"x":-93,"y":-343,"e":0}
],"hitBig":[
{"x":219,"y":562,"e":0.5},{"x":219,"y":524,"e":0.5},{"x":181,"y":486,"e":0},{"x":219,"y":486,"e":0.1},{"x":181,"y":448,"e":1},{"x":181,"y":410,"e":0.4},{"x":143,"y":372,"e":0},{"x":181,"y":372,"e":0.1},{"x":-105,"y":-372,"e":0},{"x":-143,"y":-410,"e":0.1},{"x":-143,"y":-448,"e":0.1},{"x":-181,"y":-486,"e":0},{"x":-181,"y":-524,"e":0.1},{"x":-220,"y":-562,"e":0.1}
]},"resolve":{"axis":{"x":"independent"}},"layer":[{"encoding":{"x":{"field":"x","type":"quantitative","scale":{"domain":[-700,689],"nice":false,"zero":false},"axis":{"title":"x (mm)","values":[-600,-400,-200,0,200,400,600],"labelExpr":"replace(datum.label,'−','-')","titleX":317,"titleY":25,"labelAngle":0,"labelPadding":8}},"y":{"field":"y","type":"quantitative","scale":{"domain":[-700,700],"nice":false,"zero":false},"axis":{"title":"y (mm)","values":[-600,-400,-200,0,200,400,600],"labelExpr":"replace(datum.label,'−','-')","titleX":-44}}},"layer":[{"data":{"name":"grid"},"mark":{"type":"rect","width":9.38,"height":9.47,"fill":"transparent","stroke":"#111111","strokeWidth":1}},{"data":{"name":"big"},"mark":{"type":"rect","width":17.25,"height":17.35,"fill":"transparent","stroke":"#111111","strokeWidth":1}},{"data":{"name":"hitGrid"},"mark":{"type":"rect","width":9.38,"height":9.47,"stroke":"#111111","strokeWidth":1},"encoding":{"fill":{"field":"e","type":"quantitative","scale":{"domain":[0,1],"range":["#0000ff","#0050ff"]},"legend":null}}},{"data":{"name":"hitBig"},"mark":{"type":"rect","width":17.25,"height":17.35,"stroke":"#111111","strokeWidth":1},"encoding":{"fill":{"field":"e","type":"quantitative","scale":{"domain":[0,1],"range":["#0000ff","#0050ff"]},"legend":null}}}]},{"data":{"values":[{"x":-474,"y":390,"label":"Non-ep"}]},"mark":{"type":"text","font":"DejaVu Sans","fontSize":46,"color":"#ff0000","align":"left","baseline":"alphabetic"},"encoding":{"x":{"field":"x","type":"quantitative","axis":{"orient":"top","labels":false,"title":null,"values":[-600,-400,-200,0,200,400,600]}},"y":{"field":"y","type":"quantitative"},"text":{"field":"label"}}}]}
